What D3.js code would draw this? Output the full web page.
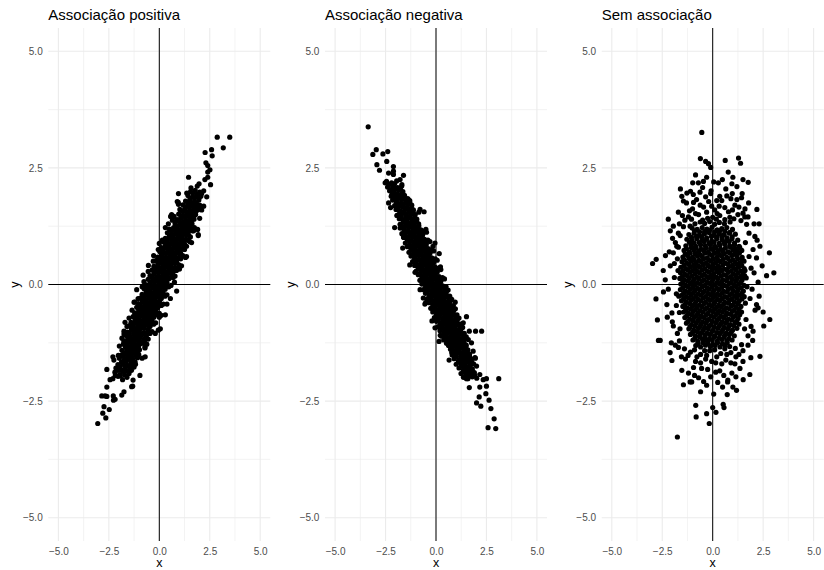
<!DOCTYPE html>
<html>
<head>
<meta charset="utf-8">
<script src="https://cdn.jsdelivr.net/npm/d3@7"></script>
<style>
  html, body { margin: 0; padding: 0; background: #fff; }
  svg { display: block; }
</style>
</head>
<body>
<script>
// ---------------- DATA ----------------
const panelTitles = ["Associação positiva", "Associação negativa", "Sem associação"];
const xAxisTitle = "x";
const yAxisTitle = "y";
const majorTicks = [-5, -2.5, 0, 2.5, 5];
const minorTicks = [-3.75, -1.25, 1.25, 3.75];

// Panel 1: positive association (x, y)
const positivePoints = [
  [2.87,3.16],[3.49,3.16],[3.17,2.93],[2.27,2.83],[2.59,2.89],[2.62,2.76],[2.31,2.61],[2.40,2.55],
  [2.51,2.46],[2.40,2.41],[2.26,2.25],[2.54,2.14],[1.97,2.16],[1.88,2.11],[1.57,2.07],[1.36,1.96],
  [2.35,1.88],[0.89,1.78],[0.56,1.46],[0.73,1.46],[1.93,1.05],[1.02,1.61],[2.05,1.62],[-0.54,0.41],
  [-0.76,0.06],[-1.12,-0.11],[1.93,1.07],[0.61,1.50],[0.94,1.76],[-1.70,-0.81],[-1.75,-1.06],
  [-1.25,-0.38],[0.86,-0.14],[-0.05,-0.98],[-0.71,-1.36],[-2.03,-1.52],[-0.71,-1.34],[-0.96,-1.95],
  [-1.37,-2.19],[-1.70,-1.07],[-2.28,-2.39],[-2.69,-2.39],[-2.60,-1.82],[-2.44,-2.04],[-3.05,-2.98],
  [-2.74,-2.62],[-2.48,-2.68],[-2.80,-2.76],[-2.65,-2.86],[-2.85,-2.39],[-2.60,-2.40],[-2.19,-2.46],
  [-2.27,-2.48],[-1.86,-2.37],[-1.32,-2.18],
  [-0.80,0.20],[0.55,-0.30],[-1.05,-0.30],[0.30,-0.65],[-0.30,0.50],[1.10,0.40],[-1.35,-0.55],
  [-0.20,-1.05],[1.35,0.60],[-0.05,0.75],[1.60,0.90],[0.45,1.30],[-1.85,-1.15],[-0.70,-1.55],
  [2.10,1.60],[0.95,1.95],[-2.30,-1.55],[-1.30,-2.05],[2.40,2.30],[1.45,2.30],[-2.60,-2.20],
  [-1.75,-2.30],[0.75,0.05],[-0.85,-0.05],[0.85,0.30],[-0.80,-1.25],[1.70,1.15],[-1.60,-0.90],
  [0.15,0.95],[0.00,-0.70],
  [-2.25,-1.62],[-0.85,-1.58],[-1.98,-1.32],[-0.62,-1.28],[-1.75,-1.00],[0.05,-0.95],[-1.50,-0.72],
  [0.10,-0.66],[-1.20,-0.38],[0.38,-0.42],[-0.55,0.28],[1.00,0.33],[-0.28,0.62],[1.30,0.58],
  [0.00,0.88],[1.50,0.92],[0.30,1.22],[1.90,1.18],[0.95,1.72],[2.20,1.68],[0.65,1.38],[2.00,1.42],
  // dense band
  [-2.30,-2.02],[-2.05,-1.97],[-1.82,-2.04],[-1.60,-1.99],
  [-2.20,-1.88],[-1.96,-1.93],[-1.74,-1.87],[-1.50,-1.91],
  [-2.15,-1.79],[-1.90,-1.83],[-1.68,-1.78],[-1.45,-1.81],[-1.25,-1.77],
  [-2.05,-1.72],[-1.83,-1.68],[-1.60,-1.73],[-1.38,-1.69],[-1.18,-1.71],
  [-1.98,-1.58],[-1.74,-1.62],[-1.52,-1.59],[-1.31,-1.61],[-1.08,-1.57],
  [-1.90,-1.52],[-1.66,-1.48],[-1.45,-1.51],[-1.24,-1.47],[-1.02,-1.50],
  [-1.85,-1.41],[-1.62,-1.38],[-1.41,-1.42],[-1.20,-1.39],[-0.98,-1.40],
  [-1.78,-1.28],[-1.56,-1.32],[-1.35,-1.29],[-1.14,-1.31],[-0.92,-1.27],
  [-1.76,-1.21],[-1.55,-1.18],[-1.35,-1.22],[-1.13,-1.19],[-0.94,-1.23],[-0.73,-1.20],[-0.55,-1.17],
  [-1.66,-1.09],[-1.46,-1.12],[-1.25,-1.08],[-1.05,-1.11],[-0.85,-1.07],[-0.64,-1.10],
  [-1.58,-1.02],[-1.37,-0.98],[-1.16,-1.01],[-0.96,-0.97],[-0.76,-1.03],[-0.55,-0.99],[-0.36,-1.01],
  [-1.48,-0.88],[-1.28,-0.92],[-1.07,-0.89],[-0.86,-0.91],[-0.66,-0.87],[-0.46,-0.90],
  [-1.40,-0.81],[-1.19,-0.78],[-0.98,-0.82],[-0.77,-0.79],[-0.57,-0.80],[-0.37,-0.77],[-0.18,-0.82],
  [-1.30,-0.69],[-1.09,-0.72],[-0.88,-0.68],[-0.68,-0.71],[-0.47,-0.67],[-0.27,-0.70],
  [-1.22,-0.61],[-1.01,-0.58],[-0.80,-0.62],[-0.59,-0.59],[-0.38,-0.60],[-0.18,-0.57],[0.00,-0.62],
  [-1.12,-0.49],[-0.91,-0.52],[-0.70,-0.48],[-0.49,-0.51],[-0.28,-0.47],[-0.08,-0.50],
  [-1.03,-0.41],[-0.83,-0.38],[-0.62,-0.42],[-0.41,-0.39],[-0.20,-0.40],[0.00,-0.37],[0.20,-0.42],
  [-0.94,-0.29],[-0.73,-0.32],[-0.52,-0.28],[-0.31,-0.31],[-0.10,-0.27],[0.10,-0.30],
  [-0.85,-0.21],[-0.64,-0.18],[-0.43,-0.22],[-0.22,-0.19],[-0.02,-0.20],[0.18,-0.17],[0.38,-0.22],
  [-0.75,-0.09],[-0.54,-0.12],[-0.33,-0.08],[-0.12,-0.11],[0.08,-0.07],[0.29,-0.10],
  [-0.66,-0.01],[-0.45,0.02],[-0.24,-0.02],[-0.03,0.01],[0.17,0.00],[0.37,0.03],[0.58,-0.02],
  [-0.55,0.11],[-0.34,0.08],[-0.13,0.12],[0.08,0.09],[0.28,0.10],[0.49,0.13],
  [-0.46,0.19],[-0.25,0.22],[-0.04,0.18],[0.17,0.21],[0.38,0.20],[0.58,0.23],[0.78,0.18],
  [-0.36,0.31],[-0.15,0.28],[0.06,0.32],[0.27,0.29],[0.48,0.30],[0.68,0.27],
  [-0.27,0.39],[-0.06,0.42],[0.15,0.38],[0.36,0.41],[0.57,0.40],[0.77,0.37],[0.97,0.42],
  [-0.17,0.51],[0.04,0.48],[0.25,0.52],[0.46,0.49],[0.67,0.50],[0.87,0.47],
  [-0.08,0.59],[0.13,0.62],[0.34,0.58],[0.55,0.61],[0.76,0.60],[0.96,0.57],[1.16,0.62],
  [0.02,0.71],[0.23,0.68],[0.44,0.72],[0.65,0.69],[0.86,0.70],[1.06,0.67],
  [0.11,0.79],[0.32,0.82],[0.53,0.78],[0.74,0.81],[0.95,0.80],[1.15,0.77],[1.35,0.82],
  [0.21,0.91],[0.42,0.88],[0.63,0.92],[0.84,0.89],[1.05,0.90],[1.25,0.87],
  [0.30,0.99],[0.51,1.02],[0.72,0.98],[0.93,1.01],[1.14,1.00],[1.34,0.97],[1.54,1.02],
  [0.40,1.11],[0.61,1.08],[0.82,1.12],[1.03,1.09],[1.24,1.10],[1.44,1.07],
  [0.50,1.19],[0.71,1.22],[0.92,1.18],[1.13,1.21],[1.34,1.20],[1.55,1.17],[1.74,1.22],
  [0.78,1.31],[1.00,1.28],[1.21,1.32],[1.42,1.29],[1.62,1.30],
  [0.88,1.39],[1.09,1.42],[1.30,1.38],[1.51,1.41],[1.72,1.40],
  [0.96,1.51],[1.18,1.48],[1.39,1.52],[1.60,1.49],[1.80,1.50],
  [1.06,1.59],[1.28,1.62],[1.49,1.58],[1.70,1.61],[1.90,1.60],
  [1.17,1.71],[1.38,1.68],[1.60,1.72],[1.81,1.69],[2.00,1.70],
  [1.30,1.79],[1.52,1.82],[1.74,1.78],[1.96,1.81],
  [1.42,1.91],[1.65,1.88],[1.86,1.92],[2.06,1.89],
  [1.55,1.99],[1.78,2.02],[2.00,1.98],[2.20,2.01],
  [-2.18,-1.95],[-1.94,-1.96],[-1.72,-1.94],
  [-2.05,-1.84],[-1.82,-1.86],[-1.58,-1.85],[-1.38,-1.84],
  [-1.95,-1.76],[-1.72,-1.74],[-1.50,-1.75],[-1.28,-1.76],
  [-1.87,-1.66],[-1.64,-1.64],[-1.42,-1.65],[-1.20,-1.66],
  [-1.80,-1.54],[-1.58,-1.56],[-1.36,-1.55],[-1.14,-1.54],
  [-1.76,-1.46],[-1.55,-1.44],[-1.32,-1.45],[-1.10,-1.46],
  [-1.68,-1.34],[-1.46,-1.36],[-1.25,-1.35],[-1.03,-1.34],
  [-1.65,-1.26],[-1.45,-1.24],[-1.24,-1.25],[-1.03,-1.26],[-0.83,-1.24],
  [-1.56,-1.14],[-1.35,-1.16],[-1.15,-1.15],[-0.95,-1.14],[-0.74,-1.16],
  [-1.48,-1.06],[-1.27,-1.04],[-1.06,-1.05],[-0.86,-1.06],[-0.65,-1.04],[-0.46,-1.05],
  [-1.38,-0.94],[-1.17,-0.96],[-0.97,-0.95],[-0.76,-0.94],[-0.56,-0.96],
  [-1.30,-0.86],[-1.09,-0.84],[-0.88,-0.85],[-0.67,-0.86],[-0.47,-0.84],[-0.28,-0.85],
  [-1.20,-0.74],[-0.99,-0.76],[-0.78,-0.75],[-0.58,-0.74],[-0.37,-0.76],
  [-1.12,-0.66],[-0.91,-0.64],[-0.70,-0.65],[-0.49,-0.66],[-0.28,-0.64],[-0.09,-0.65],
  [-1.02,-0.54],[-0.81,-0.56],[-0.60,-0.55],[-0.39,-0.54],[-0.18,-0.56],
  [-0.93,-0.46],[-0.72,-0.44],[-0.51,-0.45],[-0.30,-0.46],[-0.10,-0.44],[0.10,-0.45],
  [-0.84,-0.34],[-0.63,-0.36],[-0.42,-0.35],[-0.21,-0.34],[0.00,-0.36],
  [-0.75,-0.26],[-0.54,-0.24],[-0.33,-0.25],[-0.12,-0.26],[0.08,-0.24],[0.28,-0.25],
  [-0.65,-0.14],[-0.44,-0.16],[-0.23,-0.15],[-0.02,-0.14],[0.18,-0.16],
  [-0.56,-0.06],[-0.35,-0.04],[-0.14,-0.05],[0.07,-0.06],[0.27,-0.04],[0.47,-0.05],
  [-0.45,0.04],[-0.24,0.06],[-0.03,0.05],[0.18,0.04],[0.38,0.06],
  [-0.36,0.16],[-0.15,0.14],[0.06,0.15],[0.27,0.16],[0.48,0.14],[0.68,0.15],
  [-0.26,0.24],[-0.05,0.26],[0.16,0.25],[0.37,0.24],[0.58,0.26],
  [-0.17,0.36],[0.04,0.34],[0.25,0.35],[0.46,0.36],[0.67,0.34],[0.87,0.35],
  [-0.07,0.44],[0.14,0.46],[0.35,0.45],[0.56,0.44],[0.77,0.46],
  [0.02,0.56],[0.23,0.54],[0.44,0.55],[0.65,0.56],[0.86,0.54],[1.06,0.55],
  [0.12,0.64],[0.33,0.66],[0.54,0.65],[0.75,0.64],[0.96,0.66],
  [0.21,0.76],[0.42,0.74],[0.63,0.75],[0.84,0.76],[1.05,0.74],[1.25,0.75],
  [0.31,0.84],[0.52,0.86],[0.73,0.85],[0.94,0.84],[1.15,0.86],
  [0.40,0.96],[0.61,0.94],[0.82,0.95],[1.03,0.96],[1.24,0.94],[1.44,0.95],
  [0.50,1.04],[0.71,1.06],[0.92,1.05],[1.13,1.04],[1.34,1.06],
  [0.60,1.16],[0.81,1.14],[1.02,1.15],[1.23,1.16],[1.44,1.14],[1.64,1.15],
  [0.88,1.24],[1.10,1.26],[1.31,1.25],[1.52,1.24],
  [0.98,1.36],[1.19,1.34],[1.40,1.35],[1.61,1.36],
  [1.07,1.44],[1.28,1.46],[1.49,1.45],[1.70,1.44],
  [1.17,1.56],[1.38,1.54],[1.59,1.55],[1.80,1.56],
  [1.27,1.64],[1.49,1.66],[1.70,1.65],[1.90,1.64],
  [1.40,1.76],[1.62,1.74],[1.84,1.75],
  [1.53,1.84],[1.75,1.86],[1.96,1.85],
  [1.66,1.96],[1.88,1.94],[2.10,1.95]
];

// Panel 2: negative association (x, y)
const negativePoints = [
  [-3.36,3.38],[-2.96,2.89],[-3.13,2.79],[-2.63,2.80],[-2.39,2.85],[-2.93,2.57],[-2.80,2.45],
  [-2.44,2.64],[-2.11,2.53],[-2.52,2.18],[-2.35,1.75],[-1.61,2.34],[-0.59,1.56],[-2.11,2.36],
  [-1.78,2.25],[-1.69,2.14],[-2.19,1.93],[-2.02,1.88],[-1.94,1.48],[-1.78,1.29],[-1.61,1.02],
  [-1.04,0.26],[0.16,0.66],[-0.05,0.89],[-0.79,1.61],[-1.37,1.82],[-2.35,2.39],[-2.11,2.43],
  [2.58,-3.07],[2.96,-3.09],[2.88,-2.88],[2.72,-2.66],[3.11,-2.02],[2.63,-2.48],[2.01,-2.54],
  [2.22,-2.61],[2.14,-2.41],[2.47,-2.34],[1.65,-2.21],[2.50,-2.02],[2.26,-1.00],[1.96,-1.00],
  [1.65,-1.00],[1.51,-0.69],[-0.05,-0.93],[0.21,-1.09],[-0.63,-0.29],[-0.51,-0.39],[-0.79,-0.11],
  [1.76,-1.25],[1.84,-1.43],[1.93,-1.57],[2.01,-1.75],[1.68,-1.89],[1.51,-2.02],[2.17,-1.93],
  [2.34,-2.04],[2.50,-2.18],[2.17,-2.20],[0.78,-1.46],[0.69,-1.32],
  [-2.25,1.65],[-0.85,1.55],[-2.05,1.22],[-0.50,1.18],[-1.65,0.78],[-0.15,0.82],[-1.30,0.42],
  [0.22,0.38],[-0.55,-0.42],[0.95,-0.38],[-0.20,-0.78],[1.35,-0.82],[0.15,-1.22],[1.60,-1.18],
  [0.65,-1.62],[1.95,-1.58],
  // dense band
  [-2.45,2.21],[-2.20,2.18],[-1.95,2.22],
  [-2.40,2.09],[-2.15,2.12],[-1.90,2.08],[-1.70,2.11],
  [-2.30,2.01],[-2.08,1.98],[-1.86,2.02],[-1.64,1.99],
  [-2.22,1.89],[-2.00,1.92],[-1.78,1.88],[-1.56,1.91],
  [-2.15,1.81],[-1.93,1.78],[-1.71,1.82],[-1.49,1.79],[-1.30,1.80],
  [-2.05,1.69],[-1.84,1.72],[-1.62,1.68],[-1.40,1.71],[-1.20,1.70],
  [-1.98,1.61],[-1.76,1.58],[-1.54,1.62],[-1.32,1.59],[-1.12,1.60],
  [-1.90,1.49],[-1.68,1.52],[-1.46,1.48],[-1.24,1.51],[-1.03,1.50],
  [-1.82,1.41],[-1.60,1.38],[-1.38,1.42],[-1.16,1.39],[-0.95,1.40],
  [-1.74,1.29],[-1.52,1.32],[-1.30,1.28],[-1.08,1.31],[-0.86,1.30],
  [-1.78,1.21],[-1.57,1.18],[-1.36,1.22],[-1.15,1.19],[-0.95,1.20],[-0.75,1.17],
  [-1.69,1.09],[-1.48,1.12],[-1.27,1.08],[-1.06,1.11],[-0.86,1.10],[-0.66,1.07],[-0.47,1.12],
  [-1.60,1.01],[-1.39,0.98],[-1.18,1.02],[-0.97,0.99],[-0.77,1.00],[-0.57,0.97],
  [-1.52,0.89],[-1.31,0.92],[-1.10,0.88],[-0.89,0.91],[-0.69,0.90],[-0.49,0.87],[-0.30,0.92],
  [-1.42,0.81],[-1.21,0.78],[-1.00,0.82],[-0.79,0.79],[-0.59,0.80],[-0.39,0.77],
  [-1.34,0.69],[-1.13,0.72],[-0.92,0.68],[-0.71,0.71],[-0.51,0.70],[-0.31,0.67],[-0.12,0.72],
  [-1.24,0.61],[-1.03,0.58],[-0.82,0.62],[-0.61,0.59],[-0.41,0.60],[-0.21,0.57],
  [-1.16,0.49],[-0.95,0.52],[-0.74,0.48],[-0.53,0.51],[-0.33,0.50],[-0.13,0.47],[0.06,0.52],
  [-1.06,0.41],[-0.85,0.38],[-0.64,0.42],[-0.43,0.39],[-0.23,0.40],[-0.03,0.37],
  [-0.98,0.29],[-0.77,0.32],[-0.56,0.28],[-0.35,0.31],[-0.15,0.30],[0.05,0.27],[0.24,0.32],
  [-0.88,0.21],[-0.67,0.18],[-0.46,0.22],[-0.25,0.19],[-0.05,0.20],[0.15,0.17],
  [-0.80,0.09],[-0.59,0.12],[-0.38,0.08],[-0.17,0.11],[0.03,0.10],[0.23,0.07],[0.42,0.12],
  [-0.70,0.01],[-0.49,-0.02],[-0.28,0.02],[-0.07,-0.01],[0.13,0.00],[0.33,-0.03],
  [-0.62,-0.11],[-0.41,-0.08],[-0.20,-0.12],[0.01,-0.09],[0.21,-0.10],[0.41,-0.07],[0.60,-0.12],
  [-0.52,-0.19],[-0.31,-0.22],[-0.10,-0.18],[0.11,-0.21],[0.31,-0.20],[0.51,-0.17],
  [-0.44,-0.31],[-0.23,-0.28],[-0.02,-0.32],[0.19,-0.29],[0.39,-0.30],[0.59,-0.27],[0.78,-0.32],
  [-0.34,-0.39],[-0.13,-0.42],[0.08,-0.38],[0.29,-0.41],[0.49,-0.40],[0.69,-0.37],
  [-0.26,-0.51],[-0.05,-0.48],[0.16,-0.52],[0.37,-0.49],[0.57,-0.50],[0.77,-0.47],[0.96,-0.52],
  [-0.16,-0.59],[0.05,-0.62],[0.26,-0.58],[0.47,-0.61],[0.67,-0.60],[0.87,-0.57],
  [-0.08,-0.71],[0.13,-0.68],[0.34,-0.72],[0.55,-0.69],[0.75,-0.70],[0.95,-0.67],[1.14,-0.72],
  [0.02,-0.79],[0.23,-0.82],[0.44,-0.78],[0.65,-0.81],[0.85,-0.80],[1.05,-0.77],
  [0.10,-0.91],[0.31,-0.88],[0.52,-0.92],[0.73,-0.89],[0.93,-0.90],[1.13,-0.87],[1.32,-0.92],
  [0.20,-0.99],[0.41,-1.02],[0.62,-0.98],[0.83,-1.01],[1.03,-1.00],[1.23,-0.97],
  [0.28,-1.11],[0.49,-1.08],[0.70,-1.12],[0.91,-1.09],[1.11,-1.10],[1.31,-1.07],[1.50,-1.12],
  [0.38,-1.19],[0.59,-1.22],[0.80,-1.18],[1.01,-1.21],[1.21,-1.20],[1.41,-1.17],
  [0.62,-1.31],[0.84,-1.28],[1.06,-1.32],[1.28,-1.29],[1.50,-1.30],
  [0.72,-1.39],[0.94,-1.42],[1.16,-1.38],[1.38,-1.41],[1.58,-1.40],
  [0.80,-1.51],[1.02,-1.48],[1.24,-1.52],[1.46,-1.49],[1.66,-1.50],
  [0.90,-1.59],[1.12,-1.62],[1.34,-1.58],[1.56,-1.61],[1.76,-1.60],
  [1.00,-1.71],[1.22,-1.68],[1.44,-1.72],[1.66,-1.69],[1.86,-1.70],
  [1.14,-1.79],[1.36,-1.82],[1.58,-1.78],[1.80,-1.81],
  [1.24,-1.91],[1.46,-1.88],[1.68,-1.92],[1.90,-1.89],
  [1.36,-1.99],[1.58,-2.02],[1.80,-1.98],[2.02,-2.01],
  [-2.30,2.15],[-2.05,2.16],
  [-2.20,2.04],[-1.98,2.06],[-1.76,2.05],
  [-2.12,1.96],[-1.90,1.94],[-1.68,1.95],
  [-2.06,1.84],[-1.84,1.86],[-1.62,1.85],[-1.40,1.84],
  [-1.96,1.76],[-1.74,1.74],[-1.52,1.75],[-1.30,1.76],
  [-1.88,1.64],[-1.66,1.66],[-1.44,1.65],[-1.22,1.64],
  [-1.80,1.56],[-1.58,1.54],[-1.36,1.55],[-1.14,1.56],
  [-1.72,1.44],[-1.50,1.46],[-1.28,1.45],[-1.06,1.44],
  [-1.62,1.36],[-1.40,1.34],[-1.18,1.35],[-0.96,1.36],
  [-1.66,1.24],[-1.46,1.26],[-1.25,1.25],[-1.05,1.24],[-0.85,1.26],
  [-1.58,1.16],[-1.37,1.14],[-1.16,1.15],[-0.96,1.16],[-0.76,1.14],[-0.56,1.15],
  [-1.50,1.04],[-1.29,1.06],[-1.08,1.05],[-0.87,1.04],[-0.67,1.06],
  [-1.42,0.96],[-1.21,0.94],[-1.00,0.95],[-0.79,0.96],[-0.59,0.94],[-0.40,0.95],
  [-1.32,0.84],[-1.11,0.86],[-0.90,0.85],[-0.69,0.84],[-0.49,0.86],
  [-1.24,0.76],[-1.03,0.74],[-0.82,0.75],[-0.61,0.76],[-0.41,0.74],[-0.22,0.75],
  [-1.14,0.64],[-0.93,0.66],[-0.72,0.65],[-0.51,0.64],[-0.31,0.66],
  [-1.06,0.56],[-0.85,0.54],[-0.64,0.55],[-0.43,0.56],[-0.23,0.54],[-0.04,0.55],
  [-0.96,0.44],[-0.75,0.46],[-0.54,0.45],[-0.33,0.44],[-0.13,0.46],
  [-0.88,0.36],[-0.67,0.34],[-0.46,0.35],[-0.25,0.36],[-0.05,0.34],[0.14,0.35],
  [-0.78,0.24],[-0.57,0.26],[-0.36,0.25],[-0.15,0.24],[0.05,0.26],
  [-0.70,0.16],[-0.49,0.14],[-0.28,0.15],[-0.07,0.16],[0.13,0.14],[0.32,0.15],
  [-0.60,0.04],[-0.39,0.06],[-0.18,0.05],[0.03,0.04],[0.23,0.06],
  [-0.52,-0.06],[-0.31,-0.04],[-0.10,-0.05],[0.11,-0.06],[0.31,-0.04],[0.50,-0.05],
  [-0.42,-0.14],[-0.21,-0.16],[0.00,-0.15],[0.21,-0.14],[0.41,-0.16],
  [-0.34,-0.26],[-0.13,-0.24],[0.08,-0.25],[0.29,-0.26],[0.49,-0.24],[0.68,-0.25],
  [-0.24,-0.34],[-0.03,-0.36],[0.18,-0.35],[0.39,-0.34],[0.59,-0.36],
  [-0.16,-0.46],[0.05,-0.44],[0.26,-0.45],[0.47,-0.46],[0.67,-0.44],[0.86,-0.45],
  [-0.06,-0.54],[0.15,-0.56],[0.36,-0.55],[0.57,-0.54],[0.77,-0.56],
  [0.02,-0.66],[0.23,-0.64],[0.44,-0.65],[0.65,-0.66],[0.85,-0.64],[1.04,-0.65],
  [0.12,-0.74],[0.33,-0.76],[0.54,-0.75],[0.75,-0.74],[0.95,-0.76],
  [0.20,-0.86],[0.41,-0.84],[0.62,-0.85],[0.83,-0.86],[1.03,-0.84],[1.22,-0.85],
  [0.30,-0.94],[0.51,-0.96],[0.72,-0.95],[0.93,-0.94],[1.13,-0.96],
  [0.38,-1.06],[0.59,-1.04],[0.80,-1.05],[1.01,-1.06],[1.21,-1.04],[1.40,-1.05],
  [0.48,-1.14],[0.69,-1.16],[0.90,-1.15],[1.11,-1.14],[1.31,-1.16],
  [0.52,-1.26],[0.73,-1.24],[0.95,-1.25],[1.17,-1.26],[1.39,-1.24],
  [0.83,-1.34],[1.05,-1.36],[1.27,-1.35],[1.48,-1.34],
  [0.91,-1.46],[1.13,-1.44],[1.35,-1.45],[1.56,-1.46],
  [1.01,-1.54],[1.23,-1.56],[1.45,-1.55],[1.66,-1.54],
  [1.11,-1.66],[1.33,-1.64],[1.55,-1.65],[1.76,-1.66],
  [1.25,-1.74],[1.47,-1.76],[1.69,-1.75],
  [1.35,-1.86],[1.57,-1.84],[1.79,-1.85],
  [1.47,-1.94],[1.69,-1.96],[1.91,-1.95]
];

// Panel 3: no association (x, y)
const noAssocPoints = [
  [-0.54,3.26],[-0.61,2.70],[-0.35,2.64],[-0.21,2.59],[-0.10,2.51],[0.62,2.66],[1.28,2.71],[1.38,2.60],
  [0.77,2.41],[-0.99,2.18],[-0.71,2.18],[-0.46,2.21],[0.28,2.18],[0.95,2.16],[1.76,2.19],[-1.53,1.89],
  [-1.28,1.96],[-0.96,1.93],[-0.63,1.98],[-0.08,2.01],[0.35,1.89],[0.97,1.95],[1.46,1.95],[1.43,1.86],
  [1.78,1.75],[2.19,1.61],[-1.45,1.79],[1.59,1.45],[-2.80,0.54],[-2.98,0.45],[-2.34,0.62],[-1.99,0.99],
  [2.34,0.82],[2.81,0.68],[2.67,0.19],[3.03,0.25],[2.09,1.03],[2.17,0.57],[-2.81,-0.31],[-2.74,-0.76],
  [-2.69,-1.20],[-2.60,-1.20],[-2.44,-0.16],[-2.11,-1.46],[-2.02,-1.63],[-1.53,-1.84],[-1.12,-2.09],
  [-1.04,-2.09],[-0.30,-2.16],[0.49,-2.20],[0.72,-2.36],[1.18,-2.27],[-0.84,-2.59],[-0.82,-2.84],
  [-0.30,-2.77],[0.00,-2.64],[0.16,-2.74],[-0.17,-2.98],[0.52,-2.57],[0.56,-2.64],[-1.75,-3.27],
  [2.34,-1.54],[1.89,-1.57],[2.83,-0.75],[2.53,-0.89],[2.50,-0.59],[1.51,-2.04],[1.84,-1.93],
  [0.74,-2.09],[-1.45,1.24],[-1.12,1.25],[-1.61,1.05],[-1.78,0.82],[-1.95,0.68],[1.68,1.29],
  [-2.27,-0.43],[-2.02,-0.61],[-1.95,-0.89],[-1.65,-1.21],[2.17,-0.43],[2.25,-0.50],[1.98,-1.20],
  [1.43,-1.29],
  [-1.20,1.45],[-0.70,1.50],[-0.25,1.42],[0.35,1.48],[0.85,1.44],[1.25,1.50],[-1.00,1.62],[-0.45,1.66],
  [0.10,1.60],[0.60,1.65],[1.10,1.70],[-1.30,1.75],[-0.20,1.78],[0.45,1.80],[1.60,1.62],[-0.80,1.82],
  [0.90,1.84],[-1.70,1.55],[-0.10,1.95],[0.65,2.05],[-0.50,2.08],[1.20,2.10],[-1.10,2.00],
  [-1.10,-1.45],[-0.60,-1.50],[-0.15,-1.42],[0.40,-1.48],[0.90,-1.46],[1.30,-1.50],[-1.35,-1.60],
  [-0.85,-1.65],[-0.35,-1.60],[0.15,-1.68],[0.65,-1.62],[1.10,-1.70],[-0.55,-1.80],[0.35,-1.85],
  [0.95,-1.90],[-1.20,-1.90],[-0.10,-1.98],[0.75,-2.05],[-0.70,-2.00],[1.35,-1.80],[-1.70,-1.35],
  [1.75,-1.30],
  [-1.85,0.90],[-2.10,0.40],[-1.90,0.15],[-2.20,-0.10],[-1.80,-0.45],[-2.00,-0.80],[-1.75,-1.05],
  [-2.35,0.10],[-1.95,1.25],[-1.70,1.10],[1.80,1.10],[2.00,0.75],[1.90,0.35],[2.25,0.05],[1.85,-0.30],
  [2.10,-0.55],[1.90,-0.90],[1.75,-1.10],[2.30,-0.25],[1.80,0.60],[-1.80,-0.20],[-1.75,0.55],
  [2.05,1.30],[-2.05,-1.25],[1.70,-0.05],[-1.72,0.30],
  // transition ring around the dense centre
  [-1.38,1.38],[-1.05,1.40],[-0.50,1.38],[0.00,1.44],[0.18,1.40],[0.60,1.39],[1.05,1.41],[1.40,1.37],
  [-0.85,1.52],[-0.30,1.55],[0.22,1.52],[0.78,1.56],[1.50,1.53],[-1.50,1.48],[-0.05,1.68],[-0.62,1.70],
  [0.32,1.68],[1.30,1.66],[-1.15,1.58],[0.98,1.60],
  [-0.95,1.76],[-0.35,1.88],[0.20,1.80],[0.70,1.90],[1.20,1.82],[-1.60,2.05],[-0.30,2.30],[0.48,2.25],
  [1.00,2.30],[-0.85,2.35],[0.05,2.20],[1.50,2.25],
  [-1.40,-1.38],[-0.90,-1.40],[-0.40,-1.42],[0.10,-1.40],[0.60,-1.38],[1.12,-1.37],[1.50,-1.42],
  [-1.22,-1.52],[-0.78,-1.55],[-0.30,-1.52],[0.20,-1.55],[0.70,-1.50],[1.15,-1.55],[-0.05,-1.65],
  [-0.60,-1.68],[0.45,-1.70],[0.90,-1.68],[-1.55,-1.55],[1.50,-1.65],
  [-0.95,-1.78],[-0.25,-1.82],[0.15,-1.88],[0.55,-1.95],[1.15,-1.98],[-0.90,-1.95],[-0.45,-2.08],
  [0.25,-2.10],[-1.45,-2.15],[1.00,-2.20],[-0.60,-2.30],[0.05,-2.35],
  [-1.70,0.80],[-1.65,-0.60],[-1.68,-0.25],[-1.90,0.45],[-2.15,0.70],[-2.25,-0.70],[-1.62,-0.95],
  [-1.85,-1.30],[-2.10,1.15],[-1.65,1.30],[1.62,0.90],[1.60,0.30],[1.62,-0.40],[1.65,-0.75],
  [1.95,-0.10],[2.05,0.25],[2.20,0.95],[1.75,1.45],[2.00,-1.00],[2.45,0.40],[1.58,-0.95],
  [-2.45,0.30],[-2.20,1.40],[2.30,1.30],
  // dense centre
  [-0.88,1.30],[-0.62,1.34],[-0.40,1.31],[-0.15,1.35],[0.10,1.29],[0.33,1.33],[0.58,1.30],[0.86,1.34],
  [-1.02,1.21],[-0.77,1.18],[-0.52,1.22],[-0.29,1.19],[-0.03,1.23],[0.22,1.17],[0.45,1.20],[0.70,1.22],[0.98,1.18],
  [-1.18,1.07],[-0.92,1.10],[-0.66,1.06],[-0.41,1.09],[-0.17,1.11],[0.08,1.06],[0.33,1.09],[0.57,1.07],[0.83,1.10],[1.12,1.08],
  [-1.28,0.97],[-1.03,0.94],[-0.79,0.98],[-0.53,0.95],[-0.30,0.97],[-0.05,0.93],[0.20,0.98],[0.46,0.96],[0.69,0.94],[0.95,0.98],[1.24,0.95],
  [-1.33,0.83],[-1.08,0.86],[-0.85,0.82],[-0.60,0.85],[-0.37,0.83],[-0.12,0.86],[0.11,0.82],[0.36,0.84],[0.60,0.87],[0.84,0.83],[1.08,0.85],[1.31,0.82],
  [-1.42,0.73],[-1.17,0.70],[-0.94,0.74],[-0.70,0.71],[-0.45,0.73],[-0.22,0.70],[0.03,0.74],[0.27,0.71],[0.50,0.72],[0.76,0.70],[1.00,0.74],[1.22,0.71],[1.44,0.73],
  [-1.48,0.59],[-1.24,0.62],[-1.00,0.58],[-0.75,0.61],[-0.52,0.60],[-0.27,0.57],[-0.03,0.62],[0.22,0.59],[0.45,0.61],[0.70,0.58],[0.95,0.62],[1.20,0.60],[1.46,0.58],
  [-1.52,0.49],[-1.28,0.46],[-1.05,0.50],[-0.81,0.47],[-0.57,0.49],[-0.33,0.46],[-0.10,0.50],[0.14,0.47],[0.38,0.49],[0.62,0.46],[0.86,0.50],[1.10,0.48],[1.33,0.46],[1.55,0.50],
  [-1.58,0.37],[-1.34,0.34],[-1.10,0.38],[-0.86,0.35],[-0.62,0.37],[-0.39,0.34],[-0.15,0.38],[0.09,0.35],[0.33,0.36],[0.56,0.33],[0.80,0.38],[1.04,0.35],[1.28,0.37],[1.56,0.34],
  [-1.60,0.25],[-1.37,0.22],[-1.12,0.26],[-0.88,0.23],[-0.66,0.25],[-0.42,0.22],[-0.18,0.26],[0.05,0.23],[0.30,0.25],[0.54,0.21],[0.77,0.26],[1.02,0.23],[1.26,0.25],[1.50,0.22],
  [-1.63,0.13],[-1.40,0.10],[-1.16,0.14],[-0.92,0.11],[-0.69,0.13],[-0.45,0.10],[-0.21,0.14],[0.02,0.11],[0.26,0.13],[0.50,0.10],[0.74,0.14],[0.98,0.11],[1.22,0.13],[1.46,0.10],[1.66,0.14],
  [-1.58,0.01],[-1.34,-0.02],[-1.10,0.02],[-0.86,-0.01],[-0.62,0.01],[-0.38,-0.02],[-0.15,0.02],[0.09,-0.01],[0.33,0.01],[0.57,-0.02],[0.81,0.02],[1.05,-0.01],[1.29,0.01],[1.55,-0.02],
  [-1.60,-0.11],[-1.36,-0.14],[-1.12,-0.10],[-0.89,-0.13],[-0.65,-0.11],[-0.41,-0.14],[-0.17,-0.10],[0.06,-0.13],[0.30,-0.11],[0.54,-0.14],[0.78,-0.10],[1.02,-0.13],[1.26,-0.11],[1.52,-0.14],
  [-1.54,-0.23],[-1.30,-0.26],[-1.06,-0.22],[-0.82,-0.25],[-0.58,-0.23],[-0.35,-0.26],[-0.11,-0.22],[0.13,-0.25],[0.37,-0.23],[0.61,-0.26],[0.85,-0.22],[1.09,-0.25],[1.33,-0.23],[1.56,-0.26],
  [-1.55,-0.35],[-1.31,-0.38],[-1.08,-0.34],[-0.84,-0.37],[-0.60,-0.35],[-0.36,-0.38],[-0.12,-0.34],[0.12,-0.37],[0.36,-0.35],[0.60,-0.38],[0.84,-0.34],[1.08,-0.37],[1.32,-0.35],
  [-1.48,-0.47],[-1.25,-0.50],[-1.00,-0.46],[-0.77,-0.49],[-0.53,-0.47],[-0.29,-0.50],[-0.05,-0.46],[0.19,-0.49],[0.43,-0.47],[0.67,-0.50],[0.91,-0.46],[1.15,-0.49],[1.40,-0.47],
  [-1.44,-0.59],[-1.20,-0.62],[-0.96,-0.58],[-0.72,-0.61],[-0.48,-0.59],[-0.24,-0.62],[0.00,-0.58],[0.24,-0.61],[0.48,-0.59],[0.72,-0.62],[0.96,-0.58],[1.20,-0.61],[1.43,-0.59],
  [-1.38,-0.71],[-1.14,-0.74],[-0.90,-0.70],[-0.66,-0.73],[-0.42,-0.71],[-0.18,-0.74],[0.06,-0.70],[0.30,-0.73],[0.54,-0.71],[0.78,-0.74],[1.02,-0.70],[1.26,-0.73],
  [-1.30,-0.83],[-1.05,-0.86],[-0.81,-0.82],[-0.57,-0.85],[-0.33,-0.83],[-0.09,-0.86],[0.15,-0.82],[0.39,-0.85],[0.63,-0.83],[0.87,-0.86],[1.11,-0.82],[1.30,-0.85],
  [-1.18,-0.95],[-0.94,-0.98],[-0.70,-0.94],[-0.46,-0.97],[-0.22,-0.95],[0.02,-0.98],[0.26,-0.94],[0.50,-0.97],[0.74,-0.95],[0.98,-0.98],[1.20,-0.94],
  [-1.10,-1.07],[-0.85,-1.10],[-0.61,-1.06],[-0.37,-1.09],[-0.13,-1.07],[0.11,-1.10],[0.35,-1.06],[0.59,-1.09],[0.83,-1.07],[1.07,-1.10],
  [-0.98,-1.19],[-0.74,-1.22],[-0.50,-1.18],[-0.26,-1.21],[-0.02,-1.19],[0.22,-1.22],[0.46,-1.18],[0.70,-1.21],[0.96,-1.19],
  [-0.84,-1.31],[-0.60,-1.34],[-0.36,-1.30],[-0.12,-1.33],[0.12,-1.31],[0.36,-1.34],[0.60,-1.30],[0.84,-1.33],
  [-0.90,1.15],[-0.65,1.13],[-0.40,1.14],[-0.16,1.16],[0.10,1.13],[0.34,1.15],[0.60,1.14],[0.85,1.12],
  [-1.05,1.01],[-0.80,1.03],[-0.55,1.02],[-0.30,1.00],[-0.06,1.03],[0.20,1.01],[0.45,1.03],[0.70,1.00],[0.96,1.02],
  [-1.16,0.91],[-0.92,0.89],[-0.67,0.90],[-0.42,0.92],[-0.18,0.89],[0.07,0.91],[0.32,0.88],[0.57,0.90],[0.82,0.92],[1.08,0.89],
  [-1.30,0.77],[-1.05,0.79],[-0.82,0.78],[-0.58,0.76],[-0.33,0.79],[-0.10,0.77],[0.15,0.79],[0.39,0.76],[0.63,0.78],[0.88,0.80],[1.12,0.77],[1.34,0.79],
  [-1.36,0.65],[-1.12,0.67],[-0.88,0.66],[-0.63,0.64],[-0.39,0.67],[-0.15,0.65],[0.10,0.67],[0.34,0.64],[0.58,0.66],[0.83,0.68],[1.07,0.65],[1.32,0.67],
  [-1.40,0.53],[-1.16,0.55],[-0.92,0.54],[-0.68,0.52],[-0.44,0.55],[-0.20,0.53],[0.04,0.55],[0.28,0.52],[0.52,0.54],[0.76,0.56],[1.00,0.53],[1.24,0.55],[1.45,0.53],
  [-1.42,0.41],[-1.18,0.43],[-0.94,0.42],[-0.70,0.40],[-0.46,0.43],[-0.22,0.41],[0.02,0.43],[0.26,0.40],[0.50,0.42],[0.74,0.44],[0.98,0.41],[1.22,0.43],[1.44,0.41],
  [-1.48,0.29],[-1.24,0.31],[-1.00,0.30],[-0.76,0.28],[-0.52,0.31],[-0.28,0.29],[-0.04,0.31],[0.20,0.28],[0.44,0.30],[0.68,0.32],[0.92,0.29],[1.16,0.31],[1.40,0.29],
  [-1.50,0.17],[-1.26,0.19],[-1.02,0.18],[-0.78,0.16],[-0.54,0.19],[-0.30,0.17],[-0.06,0.19],[0.18,0.16],[0.42,0.18],[0.66,0.20],[0.90,0.17],[1.14,0.19],[1.38,0.17],[1.58,0.19],
  [-1.48,0.05],[-1.24,0.07],[-1.00,0.06],[-0.76,0.04],[-0.52,0.07],[-0.28,0.05],[-0.04,0.07],[0.20,0.04],[0.44,0.06],[0.68,0.08],[0.92,0.05],[1.16,0.07],[1.40,0.05],
  [-1.47,-0.07],[-1.23,-0.05],[-0.99,-0.06],[-0.75,-0.08],[-0.51,-0.05],[-0.27,-0.07],[-0.03,-0.05],[0.21,-0.08],[0.45,-0.06],[0.69,-0.04],[0.93,-0.07],[1.17,-0.05],[1.41,-0.07],
  [-1.44,-0.19],[-1.20,-0.17],[-0.96,-0.18],[-0.72,-0.20],[-0.48,-0.17],[-0.24,-0.19],[0.00,-0.17],[0.24,-0.20],[0.48,-0.18],[0.72,-0.16],[0.96,-0.19],[1.20,-0.17],[1.44,-0.19],
  [-1.44,-0.31],[-1.20,-0.29],[-0.96,-0.30],[-0.72,-0.32],[-0.48,-0.29],[-0.24,-0.31],[0.00,-0.29],[0.24,-0.32],[0.48,-0.30],[0.72,-0.28],[0.96,-0.31],[1.20,-0.29],[1.45,-0.31],
  [-1.38,-0.43],[-1.14,-0.41],[-0.90,-0.42],[-0.66,-0.44],[-0.42,-0.41],[-0.18,-0.43],[0.06,-0.41],[0.30,-0.44],[0.54,-0.42],[0.78,-0.40],[1.02,-0.43],[1.26,-0.41],
  [-1.34,-0.55],[-1.10,-0.53],[-0.86,-0.54],[-0.62,-0.56],[-0.38,-0.53],[-0.14,-0.55],[0.10,-0.53],[0.34,-0.56],[0.58,-0.54],[0.82,-0.52],[1.06,-0.55],[1.30,-0.53],
  [-1.28,-0.67],[-1.04,-0.65],[-0.80,-0.66],[-0.56,-0.68],[-0.32,-0.65],[-0.08,-0.67],[0.16,-0.65],[0.40,-0.68],[0.64,-0.66],[0.88,-0.64],[1.12,-0.67],[1.34,-0.65],
  [-1.22,-0.79],[-0.98,-0.77],[-0.74,-0.78],[-0.50,-0.80],[-0.26,-0.77],[-0.02,-0.79],[0.22,-0.77],[0.46,-0.80],[0.70,-0.78],[0.94,-0.76],[1.18,-0.79],
  [-1.12,-0.91],[-0.88,-0.89],[-0.64,-0.90],[-0.40,-0.92],[-0.16,-0.89],[0.08,-0.91],[0.32,-0.89],[0.56,-0.92],[0.80,-0.90],[1.04,-0.88],
  [-1.00,-1.03],[-0.76,-1.01],[-0.52,-1.02],[-0.28,-1.04],[-0.04,-1.01],[0.20,-1.03],[0.44,-1.01],[0.68,-1.04],[0.92,-1.02],
  [-0.88,-1.15],[-0.64,-1.13],[-0.40,-1.14],[-0.16,-1.16],[0.08,-1.13],[0.32,-1.15],[0.56,-1.13],[0.80,-1.16],
  [-0.72,-1.27],[-0.48,-1.25],[-0.24,-1.26],[0.00,-1.28],[0.24,-1.25],[0.48,-1.27],[0.72,-1.25]
];

const panelData = [positivePoints, negativePoints, noAssocPoints];

// ---------------- LAYOUT ----------------
const W = 824, H = 570;
const panelLefts = [48.3, 325, 601.7];
const panelWidth = 222;
const plotTop = 28, plotBottom = 541;
const pointRadius = 2.6;
const fontFamily = "'Liberation Sans', Arial, Helvetica, sans-serif";

const svg = d3.select("body").append("svg")
  .attr("width", W).attr("height", H)
  .attr("font-family", fontFamily);

panelData.forEach((pts, i) => {
  const L = panelLefts[i];
  const x = d3.scaleLinear().domain([-5.5, 5.5]).range([L, L + panelWidth]);
  const y = d3.scaleLinear().domain([-5.5, 5.5]).range([plotBottom, plotTop]);
  const g = svg.append("g");

  g.selectAll("line.vmin").data(minorTicks).join("line")
    .attr("x1", d => x(d)).attr("x2", d => x(d))
    .attr("y1", plotTop).attr("y2", plotBottom)
    .attr("stroke", "#EBEBEB").attr("stroke-width", 0.6);
  g.selectAll("line.hmin").data(minorTicks).join("line")
    .attr("x1", L).attr("x2", L + panelWidth)
    .attr("y1", d => y(d)).attr("y2", d => y(d))
    .attr("stroke", "#EBEBEB").attr("stroke-width", 0.6);
  g.selectAll("line.vmaj").data(majorTicks).join("line")
    .attr("x1", d => x(d)).attr("x2", d => x(d))
    .attr("y1", plotTop).attr("y2", plotBottom)
    .attr("stroke", "#EBEBEB").attr("stroke-width", 1.1);
  g.selectAll("line.hmaj").data(majorTicks).join("line")
    .attr("x1", L).attr("x2", L + panelWidth)
    .attr("y1", d => y(d)).attr("y2", d => y(d))
    .attr("stroke", "#EBEBEB").attr("stroke-width", 1.1);

  g.append("line")
    .attr("x1", L).attr("x2", L + panelWidth)
    .attr("y1", y(0)).attr("y2", y(0))
    .attr("stroke", "#000").attr("stroke-width", 1);
  g.append("line")
    .attr("x1", x(0)).attr("x2", x(0))
    .attr("y1", plotTop).attr("y2", plotBottom)
    .attr("stroke", "#000").attr("stroke-width", 1);

  g.append("g").selectAll("circle").data(pts).join("circle")
    .attr("cx", d => x(d[0])).attr("cy", d => y(d[1]))
    .attr("r", pointRadius).attr("fill", "#000");

  const fmt = d3.format(".1f");
  const xAxis = g.append("g").attr("transform", `translate(0,${plotBottom})`)
    .call(d3.axisBottom(x).tickValues(majorTicks).tickFormat(fmt).tickSize(0).tickPadding(7));
  const yAxis = g.append("g").attr("transform", `translate(${L},0)`)
    .call(d3.axisLeft(y).tickValues(majorTicks).tickFormat(fmt).tickSize(0).tickPadding(5.6));
  [xAxis, yAxis].forEach(a => {
    a.select(".domain").remove();
    a.attr("font-family", fontFamily).attr("font-size", 10);
    a.selectAll("text").attr("fill", "#4D4D4D");
  });

  g.append("text").attr("x", L).attr("y", 19.5)
    .attr("font-size", 15).attr("fill", "#000").text(panelTitles[i]);
  g.append("text").attr("x", L + panelWidth / 2).attr("y", 567)
    .attr("text-anchor", "middle").attr("font-size", 12.5).attr("fill", "#000").text(xAxisTitle);
  g.append("text")
    .attr("transform", `translate(${L - 34},${y(0)}) rotate(-90)`)
    .attr("text-anchor", "middle").attr("dy", "0.35em")
    .attr("font-size", 12.5).attr("fill", "#000").text(yAxisTitle);
});
</script>
</body>
</html>
